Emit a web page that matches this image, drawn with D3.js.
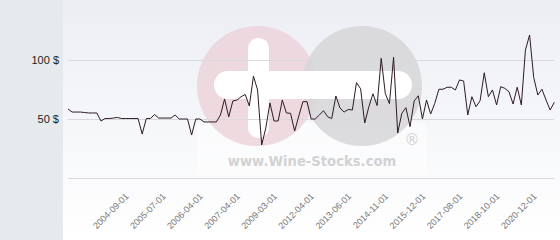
<!DOCTYPE html>
<html>
<head>
<meta charset="utf-8">
<script src="https://cdn.jsdelivr.net/npm/d3@7"></script>
<style>
  html, body { margin: 0; padding: 0; background: #fff; }
  svg { display: block; font-family: "DejaVu Sans", sans-serif; }
</style>
</head>
<body>
<svg id="chart" width="560" height="240"></svg>
<script>
// price per bottle, one entry per quote (category axis)
const prices = [
  58.5, 55.9, 55.9, 55.9, 55.5, 55.1, 55.1, 55.1, 48.3, 50.4,
  50.4, 50.8, 51.3, 50.4, 50.4, 50.4, 50.4, 50.4, 37.3, 50.4,
  50.4, 53.8, 50.8, 50.8, 50.8, 50.8, 53.4, 50.0, 50.0, 50.0,
  36.4, 50.0, 50.0, 47.5, 47.5, 47.5, 47.5, 53.4, 67.0, 51.7,
  65.3, 66.1, 68.9, 70.8, 61.0, 86.4, 74.6, 28.0, 42.4, 63.6,
  48.3, 48.3, 66.1, 55.1, 54.8, 39.8, 52.5, 64.7, 64.7, 50.0,
  50.0, 53.4, 57.0, 51.9, 50.4, 69.5, 59.3, 55.9, 58.1, 57.6,
  80.8, 75.6, 46.6, 60.4, 71.4, 61.4, 101.4, 71.4, 63.0, 102.3,
  38.1, 54.8, 59.6, 43.5, 65.3, 69.7, 50.0, 66.1, 54.2, 63.3,
  75.2, 75.2, 76.9, 76.9, 74.6, 83.1, 82.2, 53.4, 68.9, 60.4,
  65.5, 89.2, 68.9, 74.6, 61.9, 77.4, 76.0, 73.1, 62.7, 76.9,
  61.9, 108.5, 121.2, 85.3, 70.3, 75.2, 66.1, 57.6, 64.2
]

// dates shown on the x axis and the quote index they sit on
const tickDates = ['2004-09-01', '2005-07-01', '2006-04-01', '2007-04-01',
  '2009-03-01', '2012-04-01', '2013-06-01', '2014-11-01', '2015-12-01',
  '2017-08-01', '2018-10-01', '2020-12-01']
const tickIndex = [14, 23, 32, 41, 50, 59, 68, 77, 86, 95, 104, 113]

const yTicks = [0, 50, 100]
const yTickLabels = ['', '50 $', '100 $']

const width = 560
const height = 240
const panelWidth = 63
const plot = {left: 68, right: 554.3, top: 60, bottom: 178}

const svg = d3.select('#chart')

// background gradient for the plot area
const defs = svg.append('defs')
const grad = defs.append('linearGradient')
  .attr('id', 'bg')
  .attr('x1', 0).attr('y1', 0).attr('x2', 0).attr('y2', 1)
grad.append('stop').attr('offset', '0%').attr('stop-color', '#eceef4')
grad.append('stop').attr('offset', '100%').attr('stop-color', '#ffffff')

svg.append('rect')
  .attr('x', 0).attr('y', 0)
  .attr('width', panelWidth).attr('height', height)
  .attr('fill', '#e6eaed')
svg.append('rect')
  .attr('x', panelWidth).attr('y', 0)
  .attr('width', width - panelWidth).attr('height', height)
  .attr('fill', 'url(#bg)')

// watermark logo
const logo = svg.append('g').attr('class', 'watermark')
logo.append('rect')
  .attr('x', 197).attr('y', 123).attr('width', 230).attr('height', 52)
  .attr('fill', '#ffffff').attr('opacity', 0.45)
logo.append('circle')
  .attr('cx', 257).attr('cy', 86).attr('r', 60)
  .attr('fill', '#ebd3d9').attr('opacity', 0.85)
logo.append('circle')
  .attr('cx', 362).attr('cy', 86).attr('r', 60)
  .attr('fill', '#d6d6d8').attr('opacity', 0.85)
logo.append('rect')
  .attr('x', 214).attr('y', 71).attr('width', 198).attr('height', 28)
  .attr('rx', 14)
  .attr('fill', '#ffffff')
logo.append('rect')
  .attr('x', 248).attr('y', 38).attr('width', 21).attr('height', 100)
  .attr('rx', 10)
  .attr('fill', '#ffffff')
logo.append('text')
  .attr('x', 312).attr('y', 166)
  .attr('text-anchor', 'middle')
  .attr('font-size', 13.2).attr('font-weight', 'bold')
  .attr('fill', '#d2d2d4')
  .text('www.Wine-Stocks.com')
logo.append('text')
  .attr('x', 412).attr('y', 145)
  .attr('text-anchor', 'middle')
  .attr('font-size', 15)
  .attr('fill', '#d2d2d4')
  .text('®')

// scales
const x = d3.scaleLinear()
  .domain([0, prices.length - 1])
  .range([plot.left, plot.right])
const y = d3.scaleLinear()
  .domain([0, 100])
  .range([plot.bottom, plot.top])

// y axis with grid lines
const yAxis = d3.axisLeft(y)
  .tickValues(yTicks)
  .tickSize(-(plot.right - plot.left))
  .tickPadding(9)
  .tickFormat((d, i) => yTickLabels[i])
const yAxisG = svg.append('g')
  .attr('transform', 'translate(' + plot.left + ',0)')
  .call(yAxis)
yAxisG.select('.domain').remove()
yAxisG.selectAll('line').attr('stroke', '#d9d9dc')
yAxisG.selectAll('text')
  .attr('fill', '#222')
  .attr('font-size', 11)

// x axis, labels only
const xAxis = d3.axisBottom(x)
  .tickValues(tickIndex)
  .tickSize(0)
  .tickFormat((d, i) => tickDates[i])
const xAxisG = svg.append('g')
  .attr('transform', 'translate(0,' + plot.bottom + ')')
  .call(xAxis)
xAxisG.select('.domain').remove()
xAxisG.selectAll('text')
  .attr('x', 0).attr('y', 0).attr('dy', 0)
  .attr('text-anchor', 'end')
  .attr('transform', 'translate(3,19) rotate(-45)')
  .attr('fill', '#777')
  .attr('font-size', 9)

// price line
const line = d3.line()
  .x((d, i) => x(i))
  .y((d) => y(d))
svg.append('path')
  .datum(prices)
  .attr('d', line)
  .attr('fill', 'none')
  .attr('stroke', '#2e1b26')
  .attr('stroke-width', 1)
</script>
</body>
</html>
